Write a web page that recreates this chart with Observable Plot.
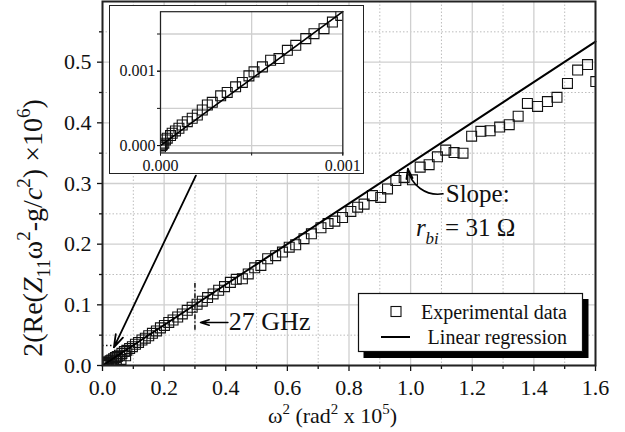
<!DOCTYPE html>
<html>
<head>
<meta charset="utf-8">
<script src="https://cdn.jsdelivr.net/npm/d3@7"></script>
<script src="https://cdn.jsdelivr.net/npm/@observablehq/plot@0.6"></script>
<style>
  html, body { margin: 0; padding: 0; background: #fff; }
  #wrap { position: relative; width: 625px; height: 432px; overflow: hidden; }
  #inset { position: absolute; left: 108.5px; top: 5px; width: 253px; height: 167px;
           border: 1.5px solid #222; background: #fff; }
  #inset svg { display: block; }
</style>
</head>
<body>
<div id="wrap"><div id="inset"></div></div>
<script>
// ---------- data (main chart) ----------
const expX = [0.0005,0.002,0.004,0.006,0.009,0.012,0.016,0.020,0.025,0.030,0.036,0.042,0.048,0.055,0.063,0.071,0.079,0.088,0.097,0.107,0.117,0.128,0.139,0.150,0.162,0.175,0.188,0.201,0.215,0.229,0.244,0.259,0.275,0.291,0.307,0.324,0.341,0.359,0.377,0.396,0.415,0.434,
  0.030,0.045,0.060,0.075,
  0.454,0.473,0.494,0.514,0.536,0.562,0.584,0.606,0.627,0.654,0.678,0.709,0.732,0.754,0.779,0.806,0.828,0.849,0.876,0.903,0.925,0.952,0.979,
  1.006,1.031,1.060,1.087,1.114,1.141,1.170,1.198,1.228,1.258,1.289,1.320,1.349,1.379,1.412,1.444,1.475,1.509,1.542,1.574,1.601];
const expY = [0.000,0.001,0.001,0.002,0.003,0.004,0.005,0.006,0.008,0.009,0.011,0.013,0.015,0.017,0.020,0.023,0.025,0.028,0.031,0.035,0.038,0.042,0.045,0.049,0.053,0.057,0.062,0.066,0.071,0.075,0.080,0.085,0.091,0.096,0.101,0.106,0.112,0.118,0.124,0.130,0.137,0.142,
  0.003,0.007,0.010,0.016,
  0.143,0.151,0.161,0.165,0.176,0.181,0.187,0.195,0.199,0.209,0.217,0.227,0.234,0.238,0.244,0.254,0.261,0.266,0.280,0.277,0.291,0.305,0.310,
  0.306,0.327,0.331,0.344,0.355,0.351,0.350,0.378,0.386,0.387,0.393,0.397,0.411,0.432,0.427,0.435,0.442,0.465,0.487,0.496,0.468];
const fitX = [0, 1.6];
const fitY = [0, 0.534];

const xMajor = [0,0.2,0.4,0.6,0.8,1.0,1.2,1.4,1.6];
const xMinor = [0.1,0.3,0.5,0.7,0.9,1.1,1.3,1.5];
const yMajor = [0,0.1,0.2,0.3,0.4,0.5];
const yMinor = [0.05,0.15,0.25,0.35,0.45,0.55];

// ---------- data (inset, units of 1e-3) ----------
const insX = [0.000,0.005,0.010,0.018,0.027,0.037,0.055,0.064,0.082,0.101,0.119,0.147,0.174,0.202,0.229,0.257,0.284,0.330,0.366,0.412,0.449,0.485,0.513,0.559,0.604,0.650,0.696,0.742,0.797,0.842,0.897,0.943,0.989];
const insY = [-0.02,0.000,0.010,0.032,0.076,0.099,0.134,0.166,0.197,0.233,0.277,0.321,0.367,0.411,0.478,0.545,0.581,0.669,0.715,0.790,0.849,0.937,0.991,1.058,1.147,1.170,1.281,1.348,1.438,1.505,1.572,1.660,1.750];
const insFitX = [0, 1.0];
const insFitY = [0, 1.8];
const insTicks = [0, 0.5, 1.0, 1.5];
const insLabelX = [0, 1.0];
const insLabelY = [0, 1.0];

// ---------- annotations ----------
const longArrow = [{x1: 0.303, y1: 0.313, x2: 0.037, y2: 0.030}];
const ghzArrow = [{x1: 0.407, y1: 0.0708, x2: 0.318, y2: 0.0708}];
const slopeArrow = [{x1: 1.105, y1: 0.283, x2: 0.991, y2: 0.3245}];
const ghzLine = [{x: 0.3, y1: 0.058, y2: 0.135}];
const zoomLine = [{y: 0.033, x1: 0, x2: 0.04}];
const notes = [
  {x: 0.410, y: 0.0577, text: "27 GHz", size: 26},
  {x: 1.114, y: 0.270, text: "Slope:", size: 25}
];
const slopeLabel = {x: 1.180, y: 0.2125};

const serif = "'Liberation Serif', 'Times New Roman', serif";
const exp = expX.map((x, i) => ({x, y: expY[i]}));
const fit = fitX.map((x, i) => ({x, y: fitY[i]}));

const chart = Plot.plot({
  width: 625, height: 432,
  marginLeft: 102, marginRight: 30, marginTop: 1, marginBottom: 67,
  x: {domain: [0, 1.6]},
  y: {domain: [0, 0.6]},
  style: {fontFamily: serif, fontSize: "22px", color: "#111", background: "#fff"},
  marks: [
    Plot.gridX(xMinor, {stroke: "#bdbdbd", strokeOpacity: 1, strokeWidth: 1, strokeDasharray: "1.5,2"}),
    Plot.gridY(yMinor, {stroke: "#bdbdbd", strokeOpacity: 1, strokeWidth: 1, strokeDasharray: "1.5,2"}),
    Plot.gridX(xMajor, {stroke: "#cfcfcf", strokeOpacity: 1, strokeWidth: 1.3}),
    Plot.gridY(yMajor, {stroke: "#cfcfcf", strokeOpacity: 1, strokeWidth: 1.3}),
    Plot.axisX({ticks: xMajor, tickSize: 6, tickPadding: 8, tickFormat: d => d.toFixed(1), label: null, strokeWidth: 1.3}),
    Plot.axisX({ticks: xMinor, tickSize: 4, tickFormat: () => "", label: null, strokeWidth: 1.3}),
    Plot.axisY({ticks: yMajor, tickSize: 5, tickPadding: 6, tickFormat: d => d.toFixed(1), label: null, strokeWidth: 1.3}),
    Plot.axisY({ticks: yMinor, tickSize: 3, tickFormat: () => "", label: null, strokeWidth: 1.3}),
    Plot.dot(exp, {x: "x", y: "y", symbol: "square", r: 5.6, fill: "none", stroke: "#111", strokeWidth: 1.1, clip: true}),
    Plot.line(fit, {x: "x", y: "y", stroke: "#000", strokeWidth: 2}),
    Plot.ruleX(ghzLine, {x: "x", y1: "y1", y2: "y2", stroke: "#111", strokeWidth: 1.5, strokeDasharray: "5,2,1.5,2"}),
    Plot.ruleY(zoomLine, {y: "y", x1: "x1", x2: "x2", stroke: "#111", strokeWidth: 1.5, strokeDasharray: "1.5,2.5"}),
    Plot.arrow(longArrow, {x1: "x1", y1: "y1", x2: "x2", y2: "y2", stroke: "#000", strokeWidth: 1.8, headLength: 11, headAngle: 35}),
    Plot.arrow(ghzArrow, {x1: "x1", y1: "y1", x2: "x2", y2: "y2", stroke: "#000", strokeWidth: 1.5, headLength: 10, headAngle: 35}),
    Plot.arrow(slopeArrow, {x1: "x1", y1: "y1", x2: "x2", y2: "y2", bend: 45, stroke: "#000", strokeWidth: 1.6, headLength: 10, headAngle: 35}),
    Plot.text(notes, {x: "x", y: "y", text: "text", fontSize: "size", textAnchor: "start", lineAnchor: "bottom", fill: "#111"}),
    Plot.frame({stroke: "#222", strokeWidth: 2})
  ]
});
document.getElementById("wrap").prepend(chart);

// rich text helper (sub/superscripts, italics)
function rich(sel, parts, size) {
  let cur = 0;
  for (const p of parts) {
    const target = p.s === "sub" ? 0.3 * size : p.s === "sup" ? -0.42 * size : 0;
    const ts = sel.append("tspan").attr("dy", target - cur).text(p.t);
    if (p.s === "sub" || p.s === "sup") ts.attr("font-size", 0.68 * size);
    if (p.i) ts.attr("font-style", "italic");
    cur = target;
  }
}

const svg = d3.select(chart);
const sx = chart.scale("x"), sy = chart.scale("y");

// y-axis title
const yt = svg.append("text")
  .attr("transform", "translate(41.7,228) rotate(-90)")
  .attr("text-anchor", "middle").attr("font-size", 28).attr("font-family", serif).attr("fill", "#111");
rich(yt, [
  {t: "2(Re("}, {t: "Z", i: true}, {t: "11", s: "sub"}, {t: "\u03c9"}, {t: "2", s: "sup"},
  {t: "-g/"}, {t: "c", i: true}, {t: "2", s: "sup"}, {t: ") \u00d710"}, {t: "6", s: "sup"}, {t: ")"}
], 28);

// x-axis title
const xt = svg.append("text")
  .attr("x", 332.5).attr("y", 423)
  .attr("text-anchor", "middle").attr("font-size", 22).attr("font-family", serif).attr("fill", "#111");
rich(xt, [
  {t: "\u03c9"}, {t: "2", s: "sup"}, {t: " (rad"}, {t: "2", s: "sup"}, {t: " x 10"}, {t: "5", s: "sup"}, {t: ")"}
], 22);

// slope value label
const st = svg.append("text")
  .attr("x", sx.apply(slopeLabel.x)).attr("y", sy.apply(slopeLabel.y))
  .attr("font-size", 25).attr("font-family", serif).attr("fill", "#111");
rich(st, [{t: "r", i: true}, {t: "bi", s: "sub", i: true}, {t: " = 31 \u03a9"}], 25);

// legend
const lg = svg.append("g").attr("font-family", serif).attr("font-size", 20).attr("fill", "#111");
lg.append("rect").attr("x", 363.5).attr("y", 299).attr("width", 225).attr("height", 59).attr("fill", "#000");
lg.append("rect").attr("x", 358.5).attr("y", 293.5).attr("width", 224).attr("height", 58)
  .attr("fill", "#fff").attr("stroke", "#111").attr("stroke-width", 1.2);
lg.append("rect").attr("x", 391).attr("y", 306.5).attr("width", 10).attr("height", 10)
  .attr("fill", "none").attr("stroke", "#111").attr("stroke-width", 1.1);
lg.append("line").attr("x1", 381).attr("x2", 410).attr("y1", 337).attr("y2", 337)
  .attr("stroke", "#000").attr("stroke-width", 2);
lg.append("text").attr("x", 567).attr("y", 318.5).attr("text-anchor", "end").text("Experimental data");
lg.append("text").attr("x", 567).attr("y", 343.5).attr("text-anchor", "end").text("Linear regression");

// ---------- inset ----------
const ins = insX.map((x, i) => ({x, y: insY[i]}));
const insFit = insFitX.map((x, i) => ({x, y: insFitY[i]}));
const inset = Plot.plot({
  width: 253, height: 167,
  marginLeft: 50, marginRight: 20.7, marginTop: 5.2, marginBottom: 20.5,
  x: {domain: [0, 1]},
  y: {domain: [-0.1, 1.8]},
  style: {fontFamily: serif, fontSize: "16px", color: "#111", background: "#fff"},
  marks: [
    Plot.gridX(insTicks, {stroke: "#cfcfcf", strokeOpacity: 1, strokeWidth: 1.3}),
    Plot.gridY(insTicks, {stroke: "#cfcfcf", strokeOpacity: 1, strokeWidth: 1.3}),
    Plot.axisX({ticks: insTicks.filter(t => t <= 1), tickSize: 3, tickFormat: () => "", label: null}),
    Plot.axisX({ticks: insLabelX, tickSize: 3, tickPadding: 4, tickFormat: d => (d / 1000).toFixed(3), label: null}),
    Plot.axisY({ticks: insTicks, tickSize: 3, tickFormat: () => "", label: null}),
    Plot.axisY({ticks: insLabelY, tickSize: 3, tickPadding: 2, tickFormat: d => (d / 1000).toFixed(3), label: null}),
    Plot.dot(ins, {x: "x", y: "y", symbol: "square", r: 5.6, fill: "none", stroke: "#111", strokeWidth: 1.1, clip: true}),
    Plot.line(insFit, {x: "x", y: "y", stroke: "#000", strokeWidth: 1.6}),
    Plot.frame({stroke: "#222", strokeWidth: 1.2})
  ]
});
document.getElementById("inset").appendChild(inset);
</script>
</body>
</html>
